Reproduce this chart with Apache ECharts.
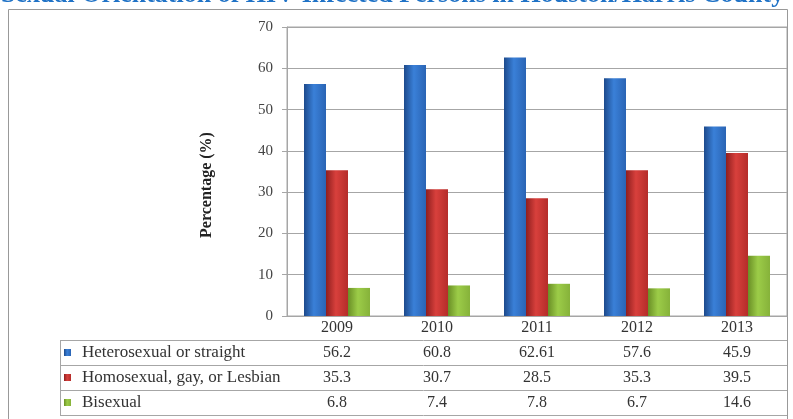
<!DOCTYPE html>
<html>
<head>
<meta charset="utf-8">
<script src="https://cdn.jsdelivr.net/npm/echarts@6/dist/echarts.min.js"></script>
<style>
  html, body { margin: 0; padding: 0; background: #fff; }
  #chart { width: 793px; height: 419px; }
</style>
</head>
<body>
<div id="chart"></div>
<script>
const years = ['2009', '2010', '2011', '2012', '2013']
const hetero = [56.2, 60.8, 62.61, 57.6, 45.9]
const homo = [35.3, 30.7, 28.5, 35.3, 39.5]
const bisexual = [6.8, 7.4, 7.8, 6.7, 14.6]
const seriesNames = ['Heterosexual or straight', 'Homosexual, gay, or Lesbian', 'Bisexual']
const yTicks = { min: 0, max: 70, interval: 10 }

const serif = 'Liberation Serif'
const lineColor = '#a6a6a6'

const grad = (a, b, c) => new echarts.graphic.LinearGradient(0, 0, 1, 0, [
  { offset: 0, color: a },
  { offset: 0.45, color: b },
  { offset: 1, color: c },
])

const colors = [
  grad('#1d4a8c', '#3a80d8', '#2a64b4'),
  grad('#8e1e1e', '#d8403c', '#b52c2a'),
  grad('#6a8f26', '#9ccc48', '#86b23a'),
]

const chart = echarts.init(document.getElementById('chart'))

// value rows of the data table, drawn as extra category axes under the plot
const rows = [hetero, homo, bisexual]
const rowAxes = rows.map((vals, i) => ({
  type: 'category',
  data: years,
  gridIndex: 0,
  position: 'bottom',
  offset: 36.5 + i * 25,
  axisLine: { show: false },
  axisTick: { show: false },
  axisLabel: {
    margin: 0,
    verticalAlign: 'middle',
    fontFamily: serif,
    fontSize: 16,
    color: '#333',
    formatter: (v, idx) => String(vals[idx]),
  },
}))

chart.setOption({
  animation: false,
  color: colors,
  grid: {
    left: 287,
    right: 6,
    top: 27,
    bottom: 103,
    show: true,
    borderColor: lineColor,
    borderWidth: 1,
  },
  legend: {
    orient: 'vertical',
    left: 64,
    top: 344,
    padding: 0,
    icon: 'rect',
    itemWidth: 7,
    itemHeight: 7,
    itemGap: 8,
    selectedMode: false,
    data: seriesNames,
    textStyle: { fontFamily: serif, fontSize: 17, lineHeight: 17, color: '#333', padding: [0, 0, 0, 6] },
  },
  xAxis: [
    {
      type: 'category',
      data: years,
      axisLine: { lineStyle: { color: lineColor } },
      axisTick: { length: 99, lineStyle: { color: lineColor } },
      axisLabel: {
        margin: 12,
        verticalAlign: 'middle',
        fontFamily: serif,
        fontSize: 16,
        color: '#333',
      },
    },
    ...rowAxes,
  ],
  yAxis: {
    type: 'value',
    ...yTicks,
    axisLine: { show: true, lineStyle: { color: lineColor } },
    axisTick: { show: true, length: 5, lineStyle: { color: lineColor } },
    splitLine: { lineStyle: { color: lineColor } },
    axisLabel: { margin: 14, fontFamily: serif, fontSize: 15, color: '#444' },
  },
  series: [hetero, homo, bisexual].map((d, i) => ({
    name: seriesNames[i],
    type: 'bar',
    data: d,
    barGap: '0%',
    barCategoryGap: '34%',
    itemStyle: { color: colors[i] },
  })),
  graphic: [
    {
      type: 'text',
      left: 1,
      top: -18,
      style: {
        text: 'Sexual Orientation of HIV-Infected Persons in Houston/Harris County',
        font: 'bold 26px "Liberation Serif"',
        fill: '#1f72c6',
      },
    },
    {
      type: 'rect',
      shape: { x: 8.5, y: 9.5, width: 779, height: 420 },
      style: { fill: 'none', stroke: '#999', lineWidth: 1 },
    },
    {
      type: 'text',
      x: 207,
      y: 185,
      rotation: Math.PI / 2,
      style: {
        text: 'Percentage (%)',
        font: 'bold 16px "Liberation Serif"',
        fill: '#222',
        align: 'center',
        verticalAlign: 'middle',
      },
    },
    ...[340, 365, 390, 415].map(y => ({
      type: 'line',
      shape: { x1: 60, y1: y + 0.5, x2: 787, y2: y + 0.5 },
      style: { stroke: lineColor, lineWidth: 1 },
    })),
    {
      type: 'line',
      shape: { x1: 60.5, y1: 340, x2: 60.5, y2: 415 },
      style: { stroke: lineColor, lineWidth: 1 },
    },
  ],
})
</script>
</body>
</html>
